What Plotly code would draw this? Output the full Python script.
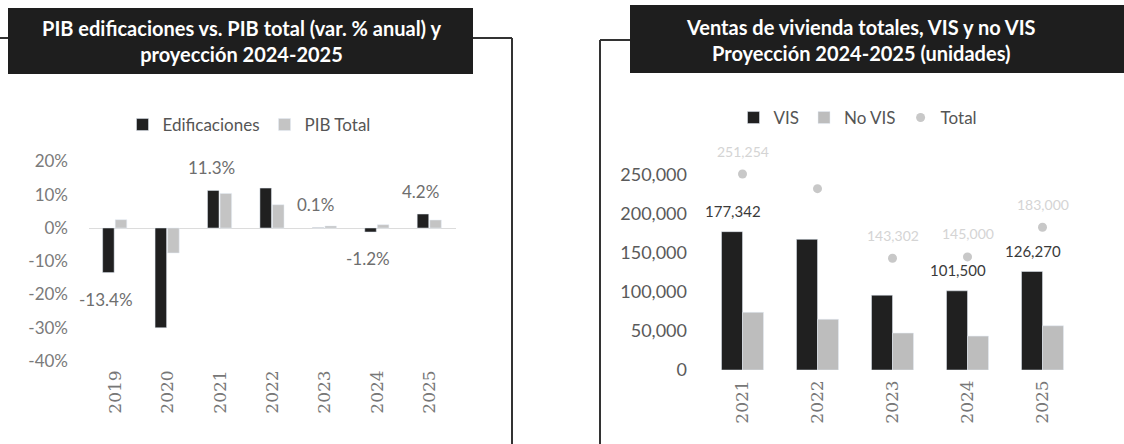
import plotly.graph_objects as go

# ---------------- data ----------------
years_l = ['2019', '2020', '2021', '2022', '2023', '2024', '2025']
edificaciones = [-13.4, -30.0, 11.3, 12.0, 0.1, -1.2, 4.2]
pib_total = [2.5, -7.5, 10.4, 7.0, 0.6, 1.0, 2.4]
edif_label_years = ['2019', '2021', '2023', '2024', '2025']
pct_ticks = [-40, -30, -20, -10, 0, 10, 20]

years_r = ['2021', '2022', '2023', '2024', '2025']
vis = [177342, 167500, 95900, 101500, 126270]
no_vis = [73912, 65000, 47402, 43500, 56730]
total = [251254, 232500, 143302, 145000, 183000]
vis_label_years = ['2021', '2024', '2025']
total_label_years = ['2021', '2023', '2024', '2025']
unit_ticks = [0, 50000, 100000, 150000, 200000, 250000]

title_l = "PIB edificaciones vs. PIB total (var. % anual) y<br>proyección 2024-2025"
title_r = "Ventas de vivienda totales, VIS y no VIS<br>Proyección 2024-2025 (unidades)"

W, H = 1124, 444
FONT = "Lato"
DARK = "#202020"
LIGHT = "#c4c4c4"

fig = go.Figure()

# ---------- left chart ----------
wl = 0.22
fig.add_trace(go.Bar(x=years_l, y=edificaciones, name="Edificaciones", marker_color=DARK,
                     width=wl, offset=-wl - 0.02, xaxis="x", yaxis="y", legend="legend"))
fig.add_trace(go.Bar(x=years_l, y=pib_total, name="PIB Total", marker_color=LIGHT,
                     width=wl, offset=0.0, xaxis="x", yaxis="y", legend="legend"))

# ---------- right chart ----------
wr = 0.28
fig.add_trace(go.Bar(x=years_r, y=vis, name="VIS", marker_color=DARK,
                     width=wr, offset=-wr, xaxis="x2", yaxis="y2", legend="legend2"))
fig.add_trace(go.Bar(x=years_r, y=no_vis, name="No VIS", marker_color="#bdbdbd",
                     width=wr, offset=0, xaxis="x2", yaxis="y2", legend="legend2"))
fig.add_trace(go.Scatter(x=years_r, y=total, name="Total", mode="markers",
                         marker=dict(color="#c8c8c8", size=9), xaxis="x2", yaxis="y2",
                         legend="legend2"))

annotations = []
# left labels (x given as category index to avoid numeric-string ambiguity)
for i, (yr, v) in enumerate(zip(years_l, edificaciones)):
    if yr in edif_label_years:
        annotations.append(dict(
            x=i, y=v, xref="x", yref="y", xshift=-9, yshift=23 if v >= 0 else -27,
            xanchor="center", yanchor="middle",
            text=f"{v:.1f}%", showarrow=False,
            font=dict(family=FONT, size=17, color="#6e6e6e")))
# right VIS labels
for i, (yr, v) in enumerate(zip(years_r, vis)):
    if yr in vis_label_years:
        annotations.append(dict(
            x=i, y=v, xref="x2", yref="y2", xshift=-10, yshift=21,
            xanchor="center", yanchor="middle",
            text=f"{v:,}", showarrow=False,
            font=dict(family=FONT, size=15, color="#3a3a3a")))
# right faint Total labels
for i, (yr, v) in enumerate(zip(years_r, total)):
    if yr in total_label_years:
        annotations.append(dict(
            x=i, y=v, xref="x2", yref="y2", yshift=23,
            xanchor="center", yanchor="middle",
            text=f"{v:,}", showarrow=False,
            font=dict(family=FONT, size=14, color="#d4d4d4")))


def px_x(p):
    return p / W


def px_y(p):
    return 1 - p / H


# titles
annotations.append(dict(x=px_x(241), y=px_y(41), xref="paper", yref="paper",
                        xanchor="center", yanchor="middle",
                        text=f"<b>{title_l}</b>", showarrow=False,
                        font=dict(family=FONT, size=20, color="white")))
annotations.append(dict(x=px_x(861), y=px_y(40), xref="paper", yref="paper",
                        xanchor="center", yanchor="middle",
                        text=f"<b>{title_r}</b>", showarrow=False,
                        font=dict(family=FONT, size=20, color="white")))

shapes = [
    # frame lines
    dict(type="line", xref="paper", yref="paper", x0=px_x(0), x1=px_x(512), y0=px_y(38), y1=px_y(38),
         line=dict(color="#333333", width=2)),
    dict(type="line", xref="paper", yref="paper", x0=px_x(512), x1=px_x(512), y0=px_y(38), y1=0,
         line=dict(color="#333333", width=2)),
    dict(type="line", xref="paper", yref="paper", x0=px_x(600), x1=px_x(640), y0=px_y(40), y1=px_y(40),
         line=dict(color="#333333", width=2)),
    dict(type="line", xref="paper", yref="paper", x0=px_x(600), x1=px_x(600), y0=px_y(40), y1=0,
         line=dict(color="#333333", width=2)),
    # title boxes
    dict(type="rect", xref="paper", yref="paper", x0=px_x(8), x1=px_x(473), y0=px_y(74), y1=px_y(8),
         fillcolor="#1e1e1e", line=dict(width=0)),
    dict(type="rect", xref="paper", yref="paper", x0=px_x(630), x1=1.0, y0=px_y(73), y1=px_y(5),
         fillcolor="#1e1e1e", line=dict(width=0)),
]

tickfont_x = dict(family="DejaVu Serif", size=17, color="#777777")

fig.update_layout(
    width=W, height=H,
    margin=dict(l=0, r=0, t=0, b=0),
    paper_bgcolor="white", plot_bgcolor="white",
    barmode="overlay",
    showlegend=True,
    xaxis=dict(domain=[px_x(89), px_x(456)], type="category", tickangle=-90,
               range=[-0.5, len(years_l) - 0.5],
               tickfont=tickfont_x, showgrid=False, showline=False, ticks="",
               ticklabelstandoff=5, anchor="y", automargin=False),
    yaxis=dict(domain=[px_y(361), px_y(161.5)], range=[-40, 20], tickmode="array",
               tickvals=pct_ticks, ticktext=[f"{v}%" for v in pct_ticks],
               showgrid=False, zeroline=True, zerolinecolor="#dcdcdc", zerolinewidth=1,
               tickfont=dict(family=FONT, size=17, color="#7a7a7a"), ticks="",
               ticklabelstandoff=20, anchor="x", automargin=False),
    xaxis2=dict(domain=[px_x(705), px_x(1080)], type="category", tickangle=-90,
                range=[-0.5, len(years_r) - 0.5],
                tickfont=tickfont_x, showgrid=False, showline=False, ticks="",
                ticklabelstandoff=6, anchor="y2", automargin=False),
    yaxis2=dict(domain=[px_y(370), px_y(136)], range=[0, 300000], tickmode="array",
                tickvals=unit_ticks, ticktext=[f"{v:,}" for v in unit_ticks],
                showgrid=False, zeroline=False,
                tickfont=dict(family=FONT, size=18, color="#5a5a5a"), ticks="",
                ticklabelstandoff=17, anchor="x2", automargin=False),
    legend=dict(orientation="h", x=px_x(249), y=px_y(125), xanchor="center", yanchor="middle",
                font=dict(family=FONT, size=17, color="#555555"), bgcolor="rgba(0,0,0,0)",
                itemwidth=30),
    legend2=dict(orientation="h", x=px_x(858), y=px_y(118), xanchor="center", yanchor="middle",
                 font=dict(family=FONT, size=17, color="#555555"), bgcolor="rgba(0,0,0,0)",
                 itemwidth=30),
    annotations=annotations,
    shapes=shapes,
)

fig.write_html("out.html", config={"displayModeBar": False},
               post_script="document.body.style.margin='0';")
